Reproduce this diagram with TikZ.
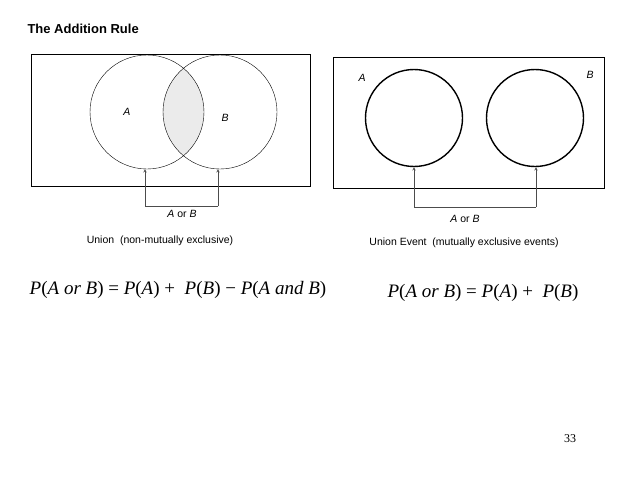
\documentclass[tikz,border=0pt]{standalone}
\usepackage{fontspec}
\setmainfont{Liberation Sans}
\newfontfamily\fser{Liberation Serif}
\newcommand{\fv}[1]{\textit{#1}}
\begin{document}
\begin{tikzpicture}[x=1pt,y=-1pt,
  lbl/.style={font=\fontsize{10.5}{12}\selectfont},
  frm/.style={font=\fser\fontsize{19}{22}\selectfont},
  arr/.style={draw=black!70,->,>=stealth,line width=0.5pt}]
\useasboundingbox (0,0) rectangle (638,479);
\node[anchor=west,font=\bfseries\fontsize{13}{15}\selectfont] (title) at (24,29) {The Addition Rule};
% left
\node[draw,minimum width=279,minimum height=132,inner sep=0,anchor=north west] (lr) at (31,54) {};
\begin{scope}
\clip (147,112) circle (57);
\fill[black!8] (220,112) circle (57);
\end{scope}
\node[draw,circle,minimum size=114,inner sep=0] (ca) at (147,112) {};
\node[draw,circle,minimum size=114,inner sep=0] (cb) at (220,112) {};
\node[lbl] (la) at (127,112) {\textit{A}};
\node[lbl] (lb) at (225,118) {\textit{B}};
\coordinate (l1) at (145,206); \coordinate (l2) at (218,206);
\draw[arr] (l1) -- (ca.south -| l1);
\draw[arr] (l2) -- (cb.south -| l2);
\draw[black!70] (l1) -- (l2);
\node[lbl] (lor) at (182,214) {\textit{A} or \textit{B}};
\node[lbl] (lcap) at (160,241) {Union\ \ (non-mutually exclusive)};
\node[frm] (lf) at (178,290) {\fv{P}(\fv{A or B}) = \fv{P}(\fv{A}) + \ \fv{P}(\fv{B}) − \fv{P}(\fv{A and B})};
% right
\node[draw,minimum width=271,minimum height=131,inner sep=0,anchor=north west] (rr) at (333,57) {};
\node[draw,circle,line width=1.4pt,minimum size=97,inner sep=0] (ra) at (414,118) {};
\node[draw,circle,line width=1.4pt,minimum size=97,inner sep=0] (rb) at (535,118) {};
\node[lbl] (ra1) at (362,78) {\textit{A}};
\node[lbl] (rb1) at (590,75) {\textit{B}};
\coordinate (r1) at (414,207); \coordinate (r2) at (536,207);
\draw[arr] (r1) -- (ra.south -| r1);
\draw[arr] (r2) -- (rb.south -| r2);
\draw[black!70] (r1) -- (r2);
\node[lbl] (ror) at (465,219) {\textit{A} or \textit{B}};
\node[lbl] (rcap) at (464,243) {Union Event\ \ (mutually exclusive events)};
\node[frm] (rf) at (483,293) {\fv{P}(\fv{A or B}) = \fv{P}(\fv{A}) + \ \fv{P}(\fv{B})};
\node[font=\fser\fontsize{12}{14}\selectfont] (pg) at (570,439) {33};
\end{tikzpicture}
\end{document}
